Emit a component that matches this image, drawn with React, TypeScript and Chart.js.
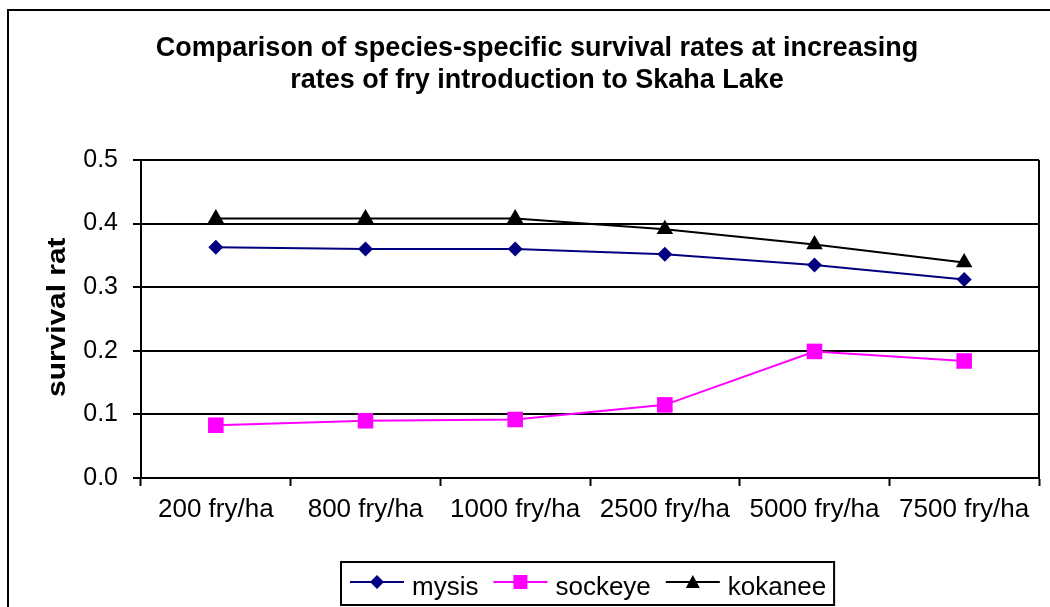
import React, { useEffect, useRef } from 'react';
import { Chart, registerables } from 'chart.js';

Chart.register(...registerables);

const categories = ['200 fry/ha', '800 fry/ha', '1000 fry/ha', '2500 fry/ha', '5000 fry/ha', '7500 fry/ha'];
const mysis = [0.363, 0.36, 0.36, 0.352, 0.335, 0.312];
const sockeye = [0.083, 0.09, 0.092, 0.115, 0.199, 0.184];
const kokanee = [0.408, 0.408, 0.408, 0.391, 0.367, 0.339];
const titleLines = [
  'Comparison of species-specific survival rates at increasing',
  'rates of fry introduction to Skaha Lake',
];
const yTitle = 'survival rate';
const yMin = 0;
const yMax = 0.5;
const yStep = 0.1;

const FONT = '"Liberation Sans", Arial, sans-serif';

function drawMarker(ctx: CanvasRenderingContext2D, style: string, x: number, y: number, r: number, color: string) {
  ctx.fillStyle = color;
  ctx.beginPath();
  if (style === 'diamond') {
    ctx.moveTo(x, y - r);
    ctx.lineTo(x + r, y);
    ctx.lineTo(x, y + r);
    ctx.lineTo(x - r, y);
  } else if (style === 'square') {
    ctx.rect(x - r, y - r, 2 * r, 2 * r);
  } else {
    ctx.moveTo(x, y - r);
    ctx.lineTo(x + r, y + r * 0.85);
    ctx.lineTo(x - r, y + r * 0.85);
  }
  ctx.closePath();
  ctx.fill();
}

const decorPlugin = {
  id: 'decor',
  afterDraw(chart: any) {
    const ctx: CanvasRenderingContext2D = chart.ctx;
    const ca = chart.chartArea;
    ctx.save();
    // outer frame
    ctx.strokeStyle = '#000';
    ctx.lineWidth = 2;
    ctx.beginPath();
    ctx.moveTo(8, 700);
    ctx.lineTo(8, 10);
    ctx.lineTo(1200, 10);
    ctx.stroke();
    // right plot border
    ctx.beginPath();
    ctx.moveTo(ca.right, ca.top);
    ctx.lineTo(ca.right, ca.bottom);
    ctx.stroke();

    // title
    ctx.fillStyle = '#000';
    ctx.font = `bold 27px ${FONT}`;
    ctx.textAlign = 'center';
    ctx.textBaseline = 'alphabetic';
    ctx.fillText(titleLines[0], 537, 56);
    ctx.fillText(titleLines[1], 537, 88);

    // y axis title (clipped as in the original)
    ctx.save();
    ctx.beginPath();
    ctx.rect(0, 237, 130, 400);
    ctx.clip();
    ctx.translate(65, 397);
    ctx.rotate(-Math.PI / 2);
    ctx.scale(1.15, 1);
    ctx.font = `bold 26px ${FONT}`;
    ctx.textAlign = 'left';
    ctx.fillText(yTitle, 0, 0);
    ctx.restore();

    // legend
    ctx.font = `26px ${FONT}`;
    ctx.textAlign = 'left';
    const styles = ['diamond', 'square', 'triangle'];
    const sizes = [7, 7, 7];
    let x = 350;
    const ly = 582;
    chart.data.datasets.forEach((ds: any, i: number) => {
      ctx.strokeStyle = ds.borderColor;
      ctx.lineWidth = 2;
      ctx.beginPath();
      ctx.moveTo(x, ly);
      ctx.lineTo(x + 54, ly);
      ctx.stroke();
      drawMarker(ctx, styles[i], x + 27, ly, sizes[i], ds.borderColor);
      ctx.fillStyle = '#000';
      ctx.fillText(ds.label, x + 62, 595);
      x = x + 62 + ctx.measureText(ds.label).width + 15;
    });
    ctx.strokeStyle = '#000';
    ctx.lineWidth = 2;
    ctx.strokeRect(341, 562, x - 15 + 8 - 341, 43);
    ctx.restore();
  },
};

export default function App() {
  const ref = useRef<HTMLCanvasElement>(null);
  useEffect(() => {
    if (!ref.current) return;
    const chart = new Chart(ref.current, {
      type: 'line',
      data: {
        labels: categories,
        datasets: [
          {
            label: 'mysis',
            data: mysis,
            borderColor: '#000080',
            backgroundColor: '#000080',
            borderWidth: 2,
            pointStyle: 'rectRot',
            pointRadius: 7.5,
            pointBorderWidth: 0,
            pointBackgroundColor: '#000080',
            tension: 0,
          },
          {
            label: 'sockeye',
            data: sockeye,
            borderColor: '#FF00FF',
            backgroundColor: '#FF00FF',
            borderWidth: 2,
            pointStyle: 'rect',
            pointRadius: 11,
            pointBorderWidth: 0,
            pointBackgroundColor: '#FF00FF',
            tension: 0,
          },
          {
            label: 'kokanee',
            data: kokanee,
            borderColor: '#000000',
            backgroundColor: '#000000',
            borderWidth: 2,
            pointStyle: 'triangle',
            pointRadius: 9.5,
            pointBorderWidth: 0,
            pointBackgroundColor: '#000000',
            tension: 0,
          },
        ],
      },
      options: {
        animation: false,
        responsive: false,
        maintainAspectRatio: false,
        layout: { padding: { left: 0, top: 160, right: 7, bottom: 69 } },
        plugins: {
          legend: { display: false },
          title: { display: false },
          tooltip: { enabled: false },
        },
        scales: {
          x: {
            type: 'category',
            offset: true,
            afterFit: (s: any) => {
              s.height = 60;
            },
            grid: {
              offset: true,
              drawOnChartArea: false,
              drawTicks: true,
              tickLength: 8,
              tickColor: '#000',
              tickWidth: 2,
              color: '#000',
            },
            border: { display: true, color: '#000', width: 2 },
            ticks: {
              color: '#000',
              font: { family: FONT, size: 26 },
              padding: 8,
              maxRotation: 0,
              autoSkip: false,
            },
          },
          y: {
            min: yMin,
            max: yMax,
            afterFit: (s: any) => {
              s.width = 141;
            },
            grid: {
              color: '#000',
              lineWidth: 2,
              drawTicks: true,
              tickLength: 8,
              tickColor: '#000',
            },
            border: { display: true, color: '#000', width: 2 },
            ticks: {
              stepSize: yStep,
              color: '#000',
              font: { family: FONT, size: 25 },
              padding: 15,
              callback: (v: any) => Number(v).toFixed(1),
            },
          },
        },
      },
      plugins: [decorPlugin],
    });
    return () => chart.destroy();
  }, []);
  return (
    <div style={{ position: 'absolute', left: 0, top: 0, width: 1050, height: 607, background: '#fff' }}>
      <canvas ref={ref} width={1050} height={607} style={{ width: 1050, height: 607, display: 'block' }} />
    </div>
  );
}
